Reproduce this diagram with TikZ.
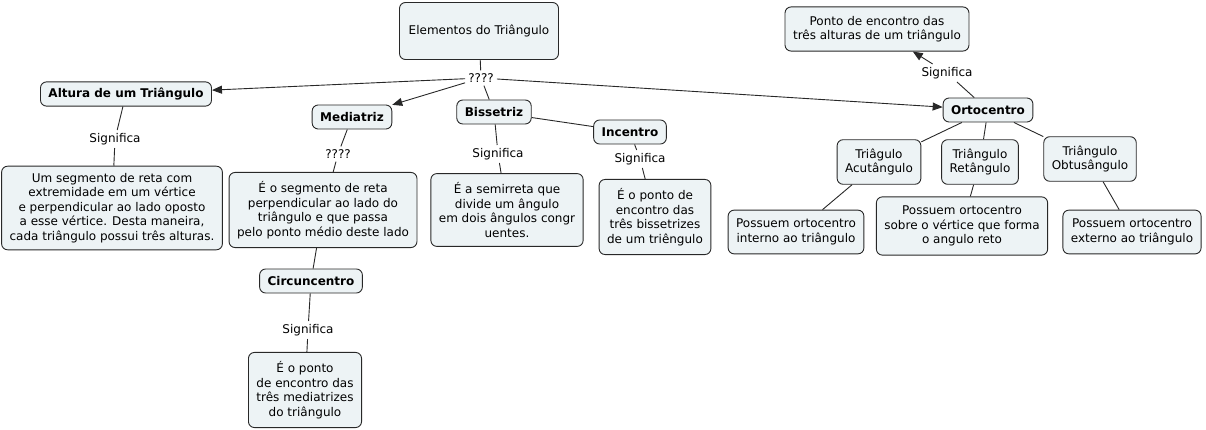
\documentclass[tikz,border=0pt]{standalone}
\usepackage{fontspec}
\setmainfont{DejaVu Sans}
\usetikzlibrary{arrows.meta}
\definecolor{cmapfill}{RGB}{237,243,245}
\definecolor{cmapline}{RGB}{40,40,40}
\begin{document}
\begin{tikzpicture}[x=1pt,y=-1pt,
  font=\fontsize{12}{14.5}\selectfont,
  >={Triangle[length=10pt,width=8pt]},
  concept/.style={draw=cmapline,fill=cmapfill,line width=0.9pt,rounded corners=6pt,
    align=center,inner xsep=8pt,inner ysep=9pt},
  conceptb/.style={concept,inner ysep=6pt,minimum height=24pt,font=\fontsize{12}{14.5}\selectfont\bfseries},
  linkword/.style={inner sep=3pt},
  link/.style={draw=cmapline,line width=0.9pt}]
\useasboundingbox (0,0) rectangle (1206,430);
%\draw[very thin,color=gray,step=50] (0,0) grid (1206,430);
\node[concept,minimum width=159pt,minimum height=57pt] (elem) at (479,31) {Elementos do Triângulo};
\node[linkword] (q1) at (481,78) {????};
\node[conceptb] (altura) at (126,94) {Altura de um Triângulo};
\node[linkword] (sig1) at (115,139) {Significa};
\node[concept,inner ysep=7pt] (defalt) at (112,208) {Um segmento de reta com\\ extremidade em um vértice\\ e perpendicular ao lado oposto\\ a esse vértice. Desta maneira,\\ cada triângulo possui três alturas.};
\node[conceptb] (mediatriz) at (352,117) {Mediatriz};
\node[linkword] (q2) at (338,154) {????};
\node[concept] (defmed) at (323,210) {É o segmento de reta\\ perpendicular ao lado do\\ triângulo e que passa\\ pelo ponto médio deste lado};
\node[conceptb] (circ) at (311,281) {Circuncentro};
\node[linkword] (sig2) at (308,330) {Significa};
\node[concept] (defcirc) at (305,390) {É o ponto\\ de encontro das\\ três mediatrizes\\ do triângulo};
\node[conceptb] (biss) at (494,112) {Bissetriz};
\node[linkword] (sig3) at (498,154) {Significa};
\node[concept] (defbiss) at (507,210) {É a semirreta que\\ divide um ângulo\\ em dois ângulos congr\\ uentes.};
\node[conceptb] (inc) at (630,132) {Incentro};
\node[linkword] (sig4) at (640,159) {Significa};
\node[concept] (definc) at (655,217) {É o ponto de\\ encontro das\\ três bissetrizes\\ de um triêngulo};
\node[conceptb] (orto) at (988,110) {Ortocentro};
\node[linkword] (sig5) at (947,73) {Significa};
\node[concept] (deforto) at (877,29) {Ponto de encontro das\\ três alturas de um triângulo};
\node[concept] (acut) at (879,162) {Triâgulo\\ Acutângulo};
\node[concept] (ret) at (980,162) {Triângulo\\ Retângulo};
\node[concept] (obt) at (1090,159) {Triângulo\\ Obtusângulo};
\node[concept] (pint) at (796,232) {Possuem ortocentro\\ interno ao triângulo};
\node[concept] (psob) at (962,226) {Possuem ortocentro\\ sobre o vértice que forma\\ o angulo reto};
\node[concept] (pext) at (1132,232) {Possuem ortocentro\\ externo ao triângulo};
\draw[link] (elem) -- (q1);
\draw[link,->] (q1) -- (altura);
\draw[link,->] (q1) -- (mediatriz);
\draw[link] (q1) -- (biss);
\draw[link,->] (q1) -- (orto);
\draw[link] (altura) -- (sig1) -- (defalt);
\draw[link] (mediatriz) -- (q2) -- (defmed);
\draw[link] (defmed) -- (circ);
\draw[link] (circ) -- (sig2) -- (defcirc);
\draw[link] (biss) -- (sig3) -- (defbiss);
\draw[link] (biss) -- (inc);
\draw[link] (inc) -- (sig4) -- (definc);
\draw[link] (orto) -- (sig5);
\draw[link,->] (sig5) -- (deforto);
\draw[link] (orto) -- (acut);
\draw[link] (orto) -- (ret);
\draw[link] (orto) -- (obt);
\draw[link] (acut) -- (pint);
\draw[link] (ret) -- (psob);
\draw[link] (obt) -- (pext);
\end{tikzpicture}
\end{document}
